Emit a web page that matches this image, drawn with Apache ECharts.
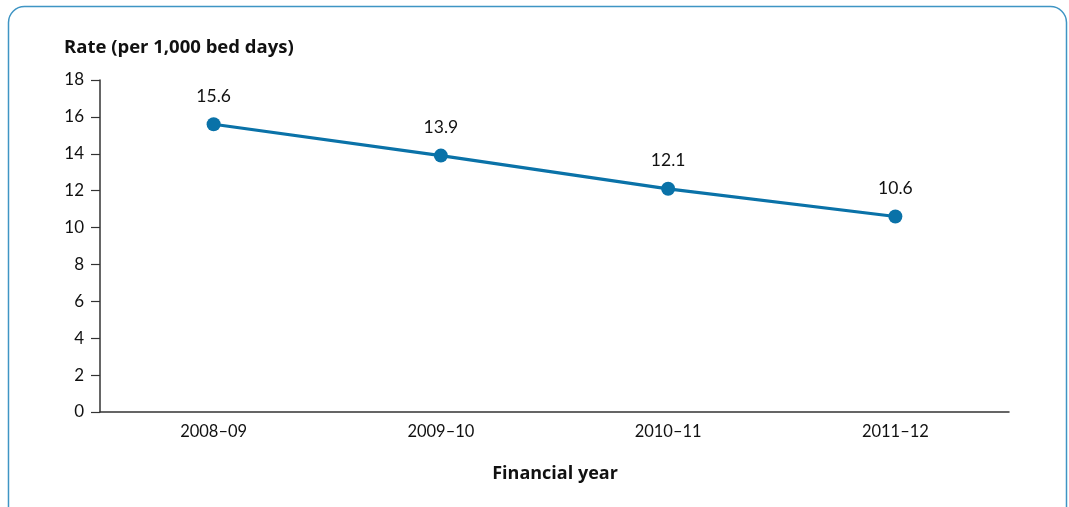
<!DOCTYPE html>
<html>
<head>
<meta charset="utf-8">
<script src="https://cdn.jsdelivr.net/npm/echarts@6/dist/echarts.min.js"></script>
<style>
  html, body { margin: 0; padding: 0; background: #fff; }
  #chart { width: 1069px; height: 507px; }
</style>
</head>
<body>
<div id="chart"></div>
<script>
// Financial years and infection rate per 1,000 bed days
const years = ['2008–09', '2009–10', '2010–11', '2011–12'];
const rates = [15.6, 13.9, 12.1, 10.6];
const yTicks = { min: 0, max: 18, interval: 2 };

const FONT = 'Lato, "Open Sans", sans-serif';
const TITLE_FONT = '"Open Sans", Lato, sans-serif';
const AXIS = '#333';
const BLUE = '#0a72a8';

const chart = echarts.init(document.getElementById('chart'), null, { renderer: 'canvas' });

chart.setOption({
  animation: false,
  textStyle: { fontFamily: FONT },
  graphic: [
    {
      type: 'rect',
      shape: { x: 8.5, y: 6.5, width: 1058, height: 540, r: 16 },
      style: { fill: 'none', stroke: '#3f95c4', lineWidth: 1.5 },
      silent: true
    },
    {
      type: 'text',
      x: 64, y: 48,
      style: { text: 'Rate (per 1,000 bed days)', font: 'bold 18.5px ' + TITLE_FONT, fill: '#111', textVerticalAlign: 'middle' }
    },
    {
      type: 'text',
      x: 555, y: 474,
      style: { text: 'Financial year', font: 'bold 18px ' + TITLE_FONT, fill: '#111', textAlign: 'center', textVerticalAlign: 'middle' }
    }
  ],
  grid: { left: 100, right: 60, top: 80, bottom: 95 },
  xAxis: {
    type: 'category',
    data: years,
    boundaryGap: true,
    axisLine: { lineStyle: { color: AXIS, width: 1.5 } },
    axisTick: { alignWithLabel: true, length: 8, lineStyle: { color: AXIS, width: 1.2 } },
    axisLabel: { color: '#111', fontSize: 16.5, margin: 11, fontFamily: FONT }
  },
  yAxis: {
    type: 'value',
    min: yTicks.min, max: yTicks.max, interval: yTicks.interval,
    splitLine: { show: false },
    axisLine: { show: true, lineStyle: { color: AXIS, width: 1.5 } },
    axisTick: { show: true, length: 9, lineStyle: { color: AXIS, width: 1.2 } },
    axisLabel: { color: '#111', fontSize: 17, margin: 16, fontFamily: FONT }
  },
  series: [{
    type: 'line',
    data: rates,
    symbol: 'circle',
    symbolSize: 14,
    lineStyle: { color: BLUE, width: 3.2 },
    itemStyle: { color: BLUE },
    label: {
      show: true,
      position: 'top',
      distance: 12,
      color: '#111',
      fontSize: 17.5,
      fontFamily: FONT,
      formatter: p => p.value.toFixed(1)
    }
  }]
});
</script>
</body>
</html>
